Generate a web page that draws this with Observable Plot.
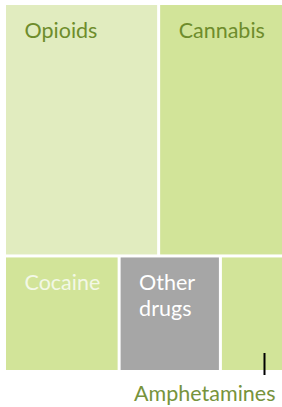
<!DOCTYPE html>
<html><head><meta charset="utf-8">
<script src="https://cdn.jsdelivr.net/npm/d3@7"></script>
<script src="https://cdn.jsdelivr.net/npm/@observablehq/plot@0.6"></script>
<style>body{margin:0;background:#fff} svg{display:block}</style>
</head><body><div id="chart"></div>
<script>
const categories = ["Opioids", "Cannabis", "Cocaine", "Other drugs", "Amphetamines"];
const values = [37.9, 30.7, 12.9, 11.4, 7.1];
const fillColors = ["#e1ecbf", "#d2e499", "#d2e499", "#a6a6a6", "#d2e499"];

const W = 276, H = 365;
const root = d3.hierarchy({children: categories.map((name, i) => ({name, value: values[i]}))})
  .sum(d => d.value || 0)
  .sort((a, b) => b.value - a.value);
d3.treemap().tile(d3.treemapSquarify).size([W, H]).paddingInner(3)(root);
const leaves = root.leaves().map(d => ({name: d.data.name, x0: d.x0, x1: d.x1, y0: d.y0, y1: d.y1}));
const olive = leaves.filter(d => d.name === "Opioids" || d.name === "Cannabis");
const pale = leaves.filter(d => d.name === "Cocaine");
const white = leaves.filter(d => d.name === "Other drugs");
const outside = leaves.filter(d => d.name === "Amphetamines");

const labelOpts = {x: "x0", y: "y0", text: d => d.name.replace(" ", "\n"), textAnchor: "start", lineAnchor: "top", dx: 18, dy: 14, fontSize: 21.5, lineHeight: 1.2};

const chart = Plot.plot({
  width: 282, height: 407,
  marginLeft: 6, marginRight: 0, marginTop: 5, marginBottom: 37,
  x: {domain: [0, W], axis: null},
  y: {domain: [0, H], reverse: true, axis: null},
  color: {domain: categories, range: fillColors},
  style: {fontFamily: "Lato, sans-serif", background: "#fff"},
  marks: [
    Plot.rect(leaves, {x1: "x0", x2: "x1", y1: "y0", y2: "y1", fill: "name"}),
    Plot.text(olive, {...labelOpts, fill: "#6e8c2c"}),
    Plot.text(pale, {...labelOpts, fill: "#f3f8e6"}),
    Plot.text(white, {...labelOpts, fill: "#ffffff"}),
    Plot.ruleX(outside, {x: d => d.x1 - 18, y1: d => d.y1 - 17, y2: d => d.y1 + 5, stroke: "#000", strokeWidth: 2}),
    Plot.text(outside, {x: "x1", y: "y1", text: "name", textAnchor: "end", lineAnchor: "bottom", dx: -7, dy: 30, fontSize: 21.5, fill: "#77933c"})
  ]
});
document.getElementById("chart").appendChild(chart);
</script>
</body></html>
